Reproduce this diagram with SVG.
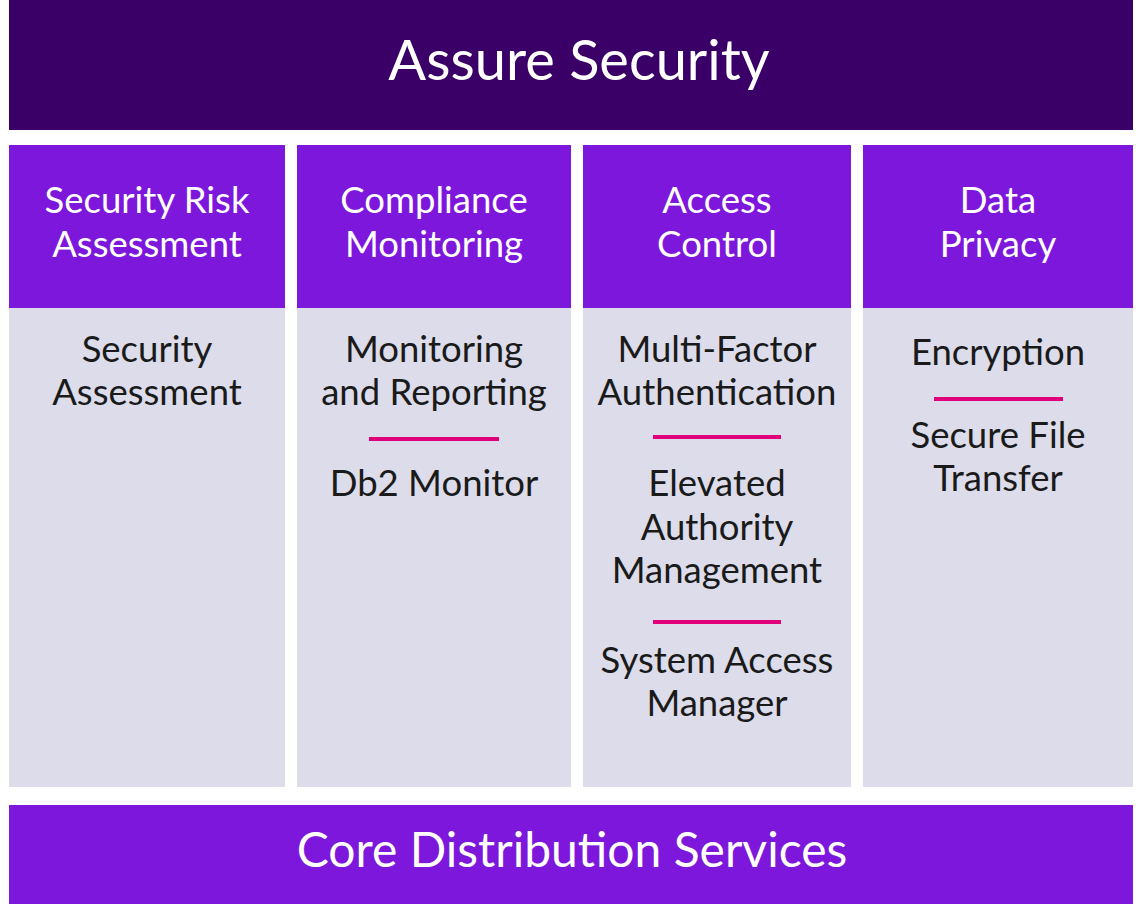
<svg xmlns="http://www.w3.org/2000/svg" width="1142" height="904" viewBox="0 0 1142 904">
<style>
text{font-family:"Lato","Liberation Sans",sans-serif;text-anchor:middle}
.w{fill:#fff;font-size:36.5px}
.d{fill:#1a1a1a;font-size:36.5px}
.h{fill:#7d17dc}
.b{fill:#dcdcea}
.sep{stroke:#e0007a;stroke-width:4}
</style>
<rect width="1142" height="904" fill="#fff"/>
<g id="top"><rect x="9" y="0" width="1124" height="130" fill="#3a0068"/><text class="w" x="579" y="80" style="font-size:56px">Assure Security</text></g>
<g id="col1"><rect class="h" x="9" y="145" width="276" height="163"/><rect class="b" x="9" y="308" width="276" height="479"/>
<text class="w" x="147" y="213">Security Risk</text><text class="w" x="147" y="257">Assessment</text>
<text class="d" x="147" y="362">Security</text><text class="d" x="147" y="405">Assessment</text></g>
<g id="col2"><rect class="h" x="297" y="145" width="274" height="163"/><rect class="b" x="297" y="308" width="274" height="479"/>
<text class="w" x="434" y="213">Compliance</text><text class="w" x="434" y="257">Monitoring</text>
<text class="d" x="434" y="362">Monitoring</text><text class="d" x="434" y="405">and Reporting</text>
<text class="d" x="434" y="496">Db2 Monitor</text></g>
<g id="col3"><rect class="h" x="583" y="145" width="268" height="163"/><rect class="b" x="583" y="308" width="268" height="479"/>
<text class="w" x="717" y="213">Access</text><text class="w" x="717" y="257">Control</text>
<text class="d" x="717" y="362">Multi-Factor</text><text class="d" x="717" y="405">Authentication</text>
<text class="d" x="717" y="496">Elevated</text><text class="d" x="717" y="540">Authority</text><text class="d" x="717" y="583">Management</text>
<text class="d" x="717" y="673">System Access</text><text class="d" x="717" y="716">Manager</text></g>
<g id="col4"><rect class="h" x="863" y="145" width="270" height="163"/><rect class="b" x="863" y="308" width="270" height="479"/>
<text class="w" x="998" y="213">Data</text><text class="w" x="998" y="257">Privacy</text>
<text class="d" x="998" y="365">Encryption</text>
<text class="d" x="998" y="448">Secure File</text><text class="d" x="998" y="491">Transfer</text></g>
<g id="connectors">
<line class="sep" x1="369" y1="439" x2="499" y2="439"/>
<line class="sep" x1="653" y1="437" x2="781" y2="437"/>
<line class="sep" x1="653" y1="622" x2="781" y2="622"/>
<line class="sep" x1="934" y1="399" x2="1063" y2="399"/>
</g>
<g id="bottom"><rect class="h" x="9" y="805" width="1124" height="99"/><text class="w" x="572" y="867" style="font-size:48px">Core Distribution Services</text></g>
</svg>
